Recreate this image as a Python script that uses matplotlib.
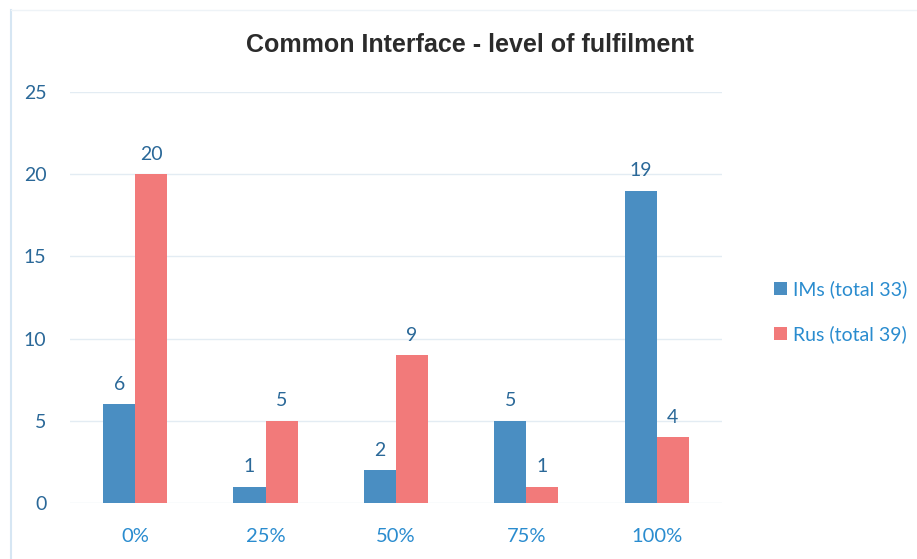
import numpy as np
import matplotlib
matplotlib.use("Agg")
import matplotlib.pyplot as plt

categories = ["0%", "25%", "50%", "75%", "100%"]
ims = [6, 1, 2, 5, 19]
rus = [20, 5, 9, 1, 4]
labels = ["IMs (total 33)", "Rus (total 39)"]

blue = "#4a8ec2"
red = "#f27a7a"
tick_blue = "#2a8ccf"
num_blue = "#2a6898"

fig = plt.figure(figsize=(9.17, 5.59), dpi=100)
ax = fig.add_axes([0.0763, 0.1002, 0.711, 0.7352])

x = np.arange(len(categories))
w = 0.246
b1 = ax.bar(x - w / 2, ims, w, color=blue, label=labels[0], zorder=2)
b2 = ax.bar(x + w / 2, rus, w, color=red, label=labels[1], zorder=2)

for bars in (b1, b2):
    for r in bars:
        ax.text(r.get_x() + r.get_width() / 2, r.get_height() + 0.7, f"{int(r.get_height())}",
                ha="center", va="bottom", fontsize=14, color=num_blue, family="Lato")

ax.set_xlim(-0.5, 4.5)
ax.set_ylim(0, 25)
ax.set_yticks(range(0, 26, 5))
ax.set_xticks(x)
ax.set_xticklabels(categories)
ax.grid(axis="y", color="#e3ecf3", linewidth=1, zorder=0)
for s in ax.spines.values():
    s.set_visible(False)
ax.tick_params(length=0)
ax.tick_params(axis="y", pad=17, labelsize=14, labelcolor=num_blue)
ax.tick_params(axis="x", pad=18, labelsize=14.5, labelcolor=tick_blue)
for t in ax.get_xticklabels() + ax.get_yticklabels():
    t.set_family("Lato")

fig.text(0.513, 0.92, "Common Interface - level of fulfilment", ha="center", va="center",
         fontsize=18, fontweight="bold", color="#2b2b2b", family="Liberation Sans")

leg = fig.legend(loc="center left", bbox_to_anchor=(0.825, 0.442), frameon=False,
                 handlelength=0.65, handleheight=0.65, handletextpad=0.35, labelspacing=1.4,
                 borderpad=0.4, prop={"family": "Lato", "size": 14})
for t in leg.get_texts():
    t.set_color(tick_blue)

# faint frame lines of the scanned chart
fig.add_artist(plt.Line2D([0.012, 0.012], [0.0, 0.982], color="#d6e6f3", lw=1.5))
fig.add_artist(plt.Line2D([0.012, 1.0], [0.982, 0.982], color="#eef3f7", lw=1))

fig.savefig("out.png", dpi=100)
